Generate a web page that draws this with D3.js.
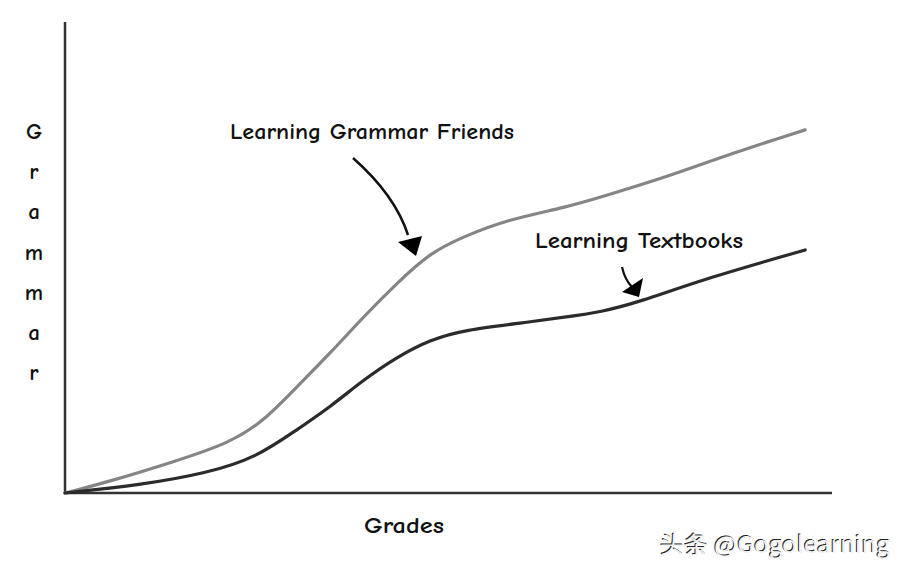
<!DOCTYPE html>
<html><head><meta charset="utf-8">
<script src="https://cdn.jsdelivr.net/npm/d3@7"></script>
<style>body{margin:0;background:#fff}svg{display:block}</style>
</head><body>
<svg id="c" width="909" height="572"></svg>
<script>
// Data (x: grades 0-100, y: grammar 0-100)
const friendsX = [0, 5.5, 14.1, 21.5, 26.1, 30.2, 34.6, 38.9, 43.3, 47.6, 51.9, 57.6, 65.4, 69.8, 78.5, 87.1, 96.5];
const friendsY = [0, 2.3, 6.6, 10.6, 15.5, 22.5, 29.7, 37.4, 44.6, 51.0, 54.4, 58.0, 60.7, 62.8, 67.1, 72.2, 77.1];
const textbooksX = [0, 9.8, 18.5, 25.0, 30.2, 34.6, 38.9, 43.3, 47.6, 51.9, 60.6, 65.4, 69.8, 75.0, 82.8, 96.5];
const textbooksY = [0, 1.7, 4.2, 7.6, 13.4, 18.3, 24.0, 28.9, 32.5, 34.6, 36.3, 37.4, 38.4, 40.6, 45.2, 51.6];
const yLabelLetters = ["G", "r", "a", "m", "m", "a", "r"];
const xTitle = "Grades";
const friendsLabel = "Learning Grammar Friends";
const textbooksLabel = "Learning Textbooks";
const watermark = "头条 @Gogolearning";

const svg = d3.select("#c");
const x = d3.scaleLinear().domain([0, 100]).range([65, 832]);
const y = d3.scaleLinear().domain([0, 100]).range([493, 22]);
const hand = "'Comic Neue','Comic Sans MS','DejaVu Sans',sans-serif";

// axes
svg.append("line").attr("x1", x(0)).attr("x2", x(0)).attr("y1", y(0)).attr("y2", y(100))
  .attr("stroke", "#333").attr("stroke-width", 2.5);
svg.append("line").attr("x1", x(0)).attr("x2", x(100)).attr("y1", y(0)).attr("y2", y(0))
  .attr("stroke", "#333").attr("stroke-width", 2.5);

const line = d3.line().x(d => x(d[0])).y(d => y(d[1])).curve(d3.curveBasis);
svg.append("path").datum(d3.zip(friendsX, friendsY)).attr("d", line)
  .attr("fill", "none").attr("stroke", "#858585").attr("stroke-width", 3.2).attr("stroke-linecap", "round");
svg.append("path").datum(d3.zip(textbooksX, textbooksY)).attr("d", line)
  .attr("fill", "none").attr("stroke", "#2b2b2b").attr("stroke-width", 3.2).attr("stroke-linecap", "round");

// y label letters
svg.selectAll("text.yl").data(yLabelLetters).join("text").attr("class", "yl")
  .attr("x", 34).attr("y", (d, i) => 139 + i * 40.2)
  .attr("text-anchor", "middle").attr("font-family", hand).attr("font-size", 23).attr("font-weight", "bold")
  .attr("fill", "#111").text(d => d);

// x title
svg.append("text").attr("x", 404).attr("y", 533).attr("text-anchor", "middle")
  .attr("font-family", hand).attr("font-size", 23).attr("font-weight", "bold").attr("fill", "#111")
  .attr("textLength", 80).attr("lengthAdjust", "spacingAndGlyphs").text(xTitle);

// annotations
svg.append("text").attr("x", 230).attr("y", 139).attr("font-family", hand).attr("font-size", 23).attr("font-weight", "bold")
  .attr("fill", "#111").attr("textLength", 284).attr("lengthAdjust", "spacingAndGlyphs").text(friendsLabel);
svg.append("text").attr("x", 535).attr("y", 248).attr("font-family", hand).attr("font-size", 23).attr("font-weight", "bold")
  .attr("fill", "#111").attr("textLength", 208).attr("lengthAdjust", "spacingAndGlyphs").text(textbooksLabel);

// arrows
svg.append("path").attr("d", "M353,158 Q395,195 408,235").attr("fill", "none")
  .attr("stroke", "#111").attr("stroke-width", 2.5);
svg.append("path").attr("d", "M398,242 L422,236 L416,256 Z").attr("fill", "#000");
svg.append("path").attr("d", "M622,267 Q625,280 632,287").attr("fill", "none")
  .attr("stroke", "#111").attr("stroke-width", 2.2);
svg.append("path").attr("d", "M622,292 L643,278 L639,297 Z").attr("fill", "#000");

// watermark
const wm = svg.append("g").attr("font-family", "'Noto Sans CJK SC','Noto Sans',sans-serif").attr("font-size", 23);
wm.append("text").attr("x", 659).attr("y", 552).attr("fill", "#222").attr("textLength", 230).attr("lengthAdjust", "spacingAndGlyphs").text(watermark);
wm.append("text").attr("x", 660).attr("y", 553).attr("fill", "#f2f2f2").attr("textLength", 230).attr("lengthAdjust", "spacingAndGlyphs").text(watermark);
</script>
</body></html>
